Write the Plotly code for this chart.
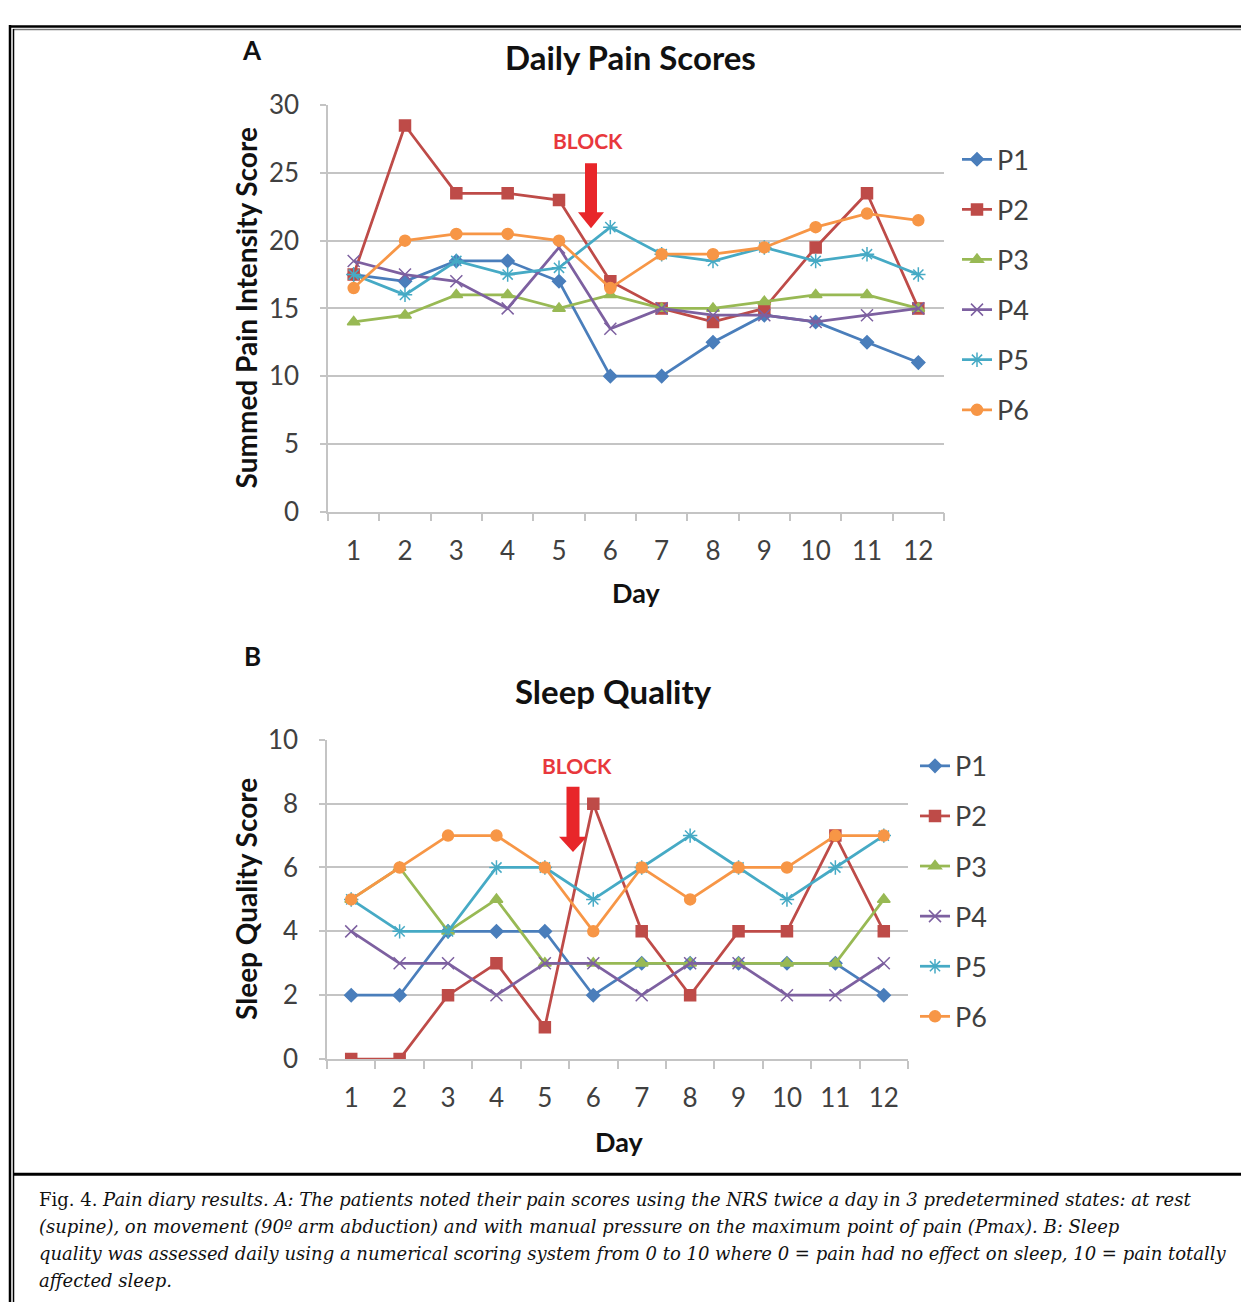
import plotly.graph_objects as go

# The page is photographed with a vertical squeeze (viewport ~1336 px tall mapped onto 1302),
# the figure sits below the body margin; these constants map reference pixels to paper coords.
FW, FH = 1241, 1302
OX, OY = 8, 25.5
KY = 1336 / 1302


def X(px):
    return (px - OX) / FW


def Y(py):
    return 1 - (py * KY - OY) / FH


days = list(range(1, 13))
patients = ["P1", "P2", "P3", "P4", "P5", "P6"]

# Panel A: Summed pain intensity score
pain_p1 = [17.5, 17, 18.5, 18.5, 17, 10, 10, 12.5, 14.5, 14, 12.5, 11]
pain_p2 = [17.5, 28.5, 23.5, 23.5, 23, 17, 15, 14, 15, 19.5, 23.5, 15]
pain_p3 = [14, 14.5, 16, 16, 15, 16, 15, 15, 15.5, 16, 16, 15]
pain_p4 = [18.5, 17.5, 17, 15, 19.5, 13.5, 15, 14.5, 14.5, 14, 14.5, 15]
pain_p5 = [17.5, 16, 18.5, 17.5, 18, 21, 19, 18.5, 19.5, 18.5, 19, 17.5]
pain_p6 = [16.5, 20, 20.5, 20.5, 20, 16.5, 19, 19, 19.5, 21, 22, 21.5]

# Panel B: Sleep quality score
sleep_p1 = [2, 2, 4, 4, 4, 2, 3, 3, 3, 3, 3, 2]
sleep_p2 = [0, 0, 2, 3, 1, 8, 4, 2, 4, 4, 7, 4]
sleep_p3 = [5, 6, 4, 5, 3, 3, 3, 3, 3, 3, 3, 5]
sleep_p4 = [4, 3, 3, 2, 3, 3, 2, 3, 3, 2, 2, 3]
sleep_p5 = [5, 4, 4, 6, 6, 5, 6, 7, 6, 5, 6, 7]
sleep_p6 = [5, 6, 7, 7, 6, 4, 6, 5, 6, 6, 7, 7]

pain = [pain_p1, pain_p2, pain_p3, pain_p4, pain_p5, pain_p6]
sleep = [sleep_p1, sleep_p2, sleep_p3, sleep_p4, sleep_p5, sleep_p6]

colors = ["#4A7EBB", "#BE4B48", "#98B954", "#7D60A0", "#46AAC5", "#F79646"]
symbols = ["diamond", "square", "triangle-up", "x-thin-open", "asterisk-open", "circle"]
msizes = [10, 11, 11, 12, 12, 11]

FONT = "Lato"
TXT = "#404040"

fig = go.Figure()

for i, p in enumerate(patients):
    fig.add_trace(go.Scatter(
        x=days, y=pain[i], name=p, mode="lines+markers",
        line=dict(color=colors[i], width=2.75),
        marker=dict(symbol=symbols[i], size=msizes[i], color=colors[i],
                    line=dict(color=colors[i], width=1.5)),
        xaxis="x", yaxis="y", legend="legend", legendgroup="a" + p,
    ))
for i, p in enumerate(patients):
    fig.add_trace(go.Scatter(
        x=days, y=sleep[i], name=p, mode="lines+markers",
        line=dict(color=colors[i], width=2.75),
        marker=dict(symbol=symbols[i], size=msizes[i], color=colors[i],
                    line=dict(color=colors[i], width=1.5)),
        xaxis="x2", yaxis="y2", legend="legend2", legendgroup="b" + p,
    ))

grid = "#c4c4c4"


def xax(domain, anchor):
    return dict(
        domain=domain, anchor=anchor, range=[0.5, 12.5],
        tickvals=days, ticktext=[str(d) for d in days],
        ticks="", showgrid=False, zeroline=False,
        showline=True, linecolor=grid, linewidth=1.5,
        tickfont=dict(family=FONT, size=26, color=TXT),
        ticklabelstandoff=15,
        minor=dict(tick0=0.5, dtick=1, ticks="outside", ticklen=8,
                   tickcolor=grid, tickwidth=1.5, showgrid=False),
    )


def yax(domain, anchor, rng, dt):
    return dict(
        domain=domain, anchor=anchor, range=rng, dtick=dt,
        showgrid=True, gridcolor=grid, gridwidth=1.5, zeroline=False,
        showline=True, linecolor=grid, linewidth=1.5,
        ticks="outside", ticklen=6, tickcolor=grid, tickwidth=1.5,
        tickfont=dict(family=FONT, size=26, color=TXT),
        ticklabelstandoff=16,
    )


legend_common = dict(
    font=dict(family=FONT, size=27, color=TXT),
    bgcolor="rgba(0,0,0,0)", borderwidth=0,
    traceorder="grouped", tracegroupgap=12,
    xanchor="left", yanchor="top", itemwidth=30,
)

fig.update_layout(
    width=FW, height=FH,
    margin=dict(l=0, r=0, t=0, b=0),
    paper_bgcolor="white", plot_bgcolor="white",
    showlegend=True,
    xaxis=xax([X(328), X(944)], "y"),
    yaxis=yax([Y(511), Y(105)], "x", [0, 30], 5),
    xaxis2=xax([X(327), X(908)], "y2"),
    yaxis2=yax([Y(1058), Y(739)], "x2", [0, 10], 2),
    legend=dict(x=X(957), y=Y(135), **legend_common),
    legend2=dict(x=X(915), y=Y(741), **legend_common),
)

ann = []


def text(px, py, s, size, bold=True, color="#111111", angle=0, family=FONT):
    ann.append(dict(
        x=X(px), y=Y(py), xref="paper", yref="paper", text=(f"<b>{s}</b>" if bold else s),
        showarrow=False, xanchor="center", yanchor="middle", textangle=angle,
        font=dict(family=family, size=size, color=color),
    ))


text(252, 50, "A", 26)
text(252, 655, "B", 26)
text(630, 57, "Daily Pain Scores", 33)
text(613, 690, "Sleep Quality", 33)
text(246, 308, "Summed Pain Intensity Score", 28)
ann[-1]["textangle"] = -90
text(246, 898, "Sleep Quality Score", 28)
ann[-1]["textangle"] = -90
text(636, 592, "Day", 27)
text(619, 1140, "Day", 27)
text(588, 140, "BLOCK", 21, color="#E8383D")
text(577, 765, "BLOCK", 21, color="#E8383D")

caption_lines = [
    "Fig. 4. <i>Pain diary results. A: The patients noted their pain scores using the NRS twice a day in 3 predetermined states: at rest</i>",
    "<i>(supine), on movement (90º arm abduction) and with manual pressure on the maximum point of pain (Pmax). B: Sleep</i>",
    "<i>quality was assessed daily using a numerical scoring system from 0 to 10 where 0 = pain had no effect on sleep, 10 = pain totally</i>",
    "<i>affected sleep.</i>",
]
for k, line in enumerate(caption_lines):
    ann.append(dict(
        x=X(37), y=Y(1198 + 27 * k), xref="paper", yref="paper", text=line,
        showarrow=False, xanchor="left", yanchor="middle", align="left",
        font=dict(family="DejaVu Serif", size=18, color="#111111"),
    ))
fig.update_layout(annotations=ann)


def arrow_path(cx, top, neck, tip, shaft_half, head_half):
    pts = [(cx - shaft_half, top), (cx + shaft_half, top), (cx + shaft_half, neck),
           (cx + head_half, neck), (cx, tip), (cx - head_half, neck), (cx - shaft_half, neck)]
    return "M " + " L ".join(f"{X(a):.5f},{Y(b):.5f}" for a, b in pts) + " Z"


TOP = OY / KY  # reference-pixel row where the figure begins
shapes = [
    dict(type="path", xref="paper", yref="paper",
         path=arrow_path(591, 163, 212, 228, 6, 13),
         fillcolor="#E8262A", line=dict(width=0)),
    dict(type="path", xref="paper", yref="paper",
         path=arrow_path(573, 786, 836, 851, 6.5, 14),
         fillcolor="#E8262A", line=dict(width=0)),
    # frame lines
    dict(type="line", xref="paper", yref="paper", x0=X(9), x1=X(1260), y0=Y(TOP + 1.5), y1=Y(TOP + 1.5),
         line=dict(color="black", width=2.5)),
    dict(type="line", xref="paper", yref="paper", x0=X(13), x1=X(1260), y0=Y(TOP + 4.5), y1=Y(TOP + 4.5),
         line=dict(color="#777777", width=1.5)),
    dict(type="line", xref="paper", yref="paper", x0=X(10), x1=X(10), y0=Y(TOP), y1=Y(1320),
         line=dict(color="black", width=2.5)),
    dict(type="line", xref="paper", yref="paper", x0=X(13.5), x1=X(13.5), y0=Y(TOP + 4), y1=Y(1320),
         line=dict(color="black", width=1.5)),
    dict(type="line", xref="paper", yref="paper", x0=X(13), x1=X(1260), y0=Y(1173), y1=Y(1173),
         line=dict(color="black", width=3)),
]
fig.update_layout(shapes=shapes)

fig.write_html("out.html")
